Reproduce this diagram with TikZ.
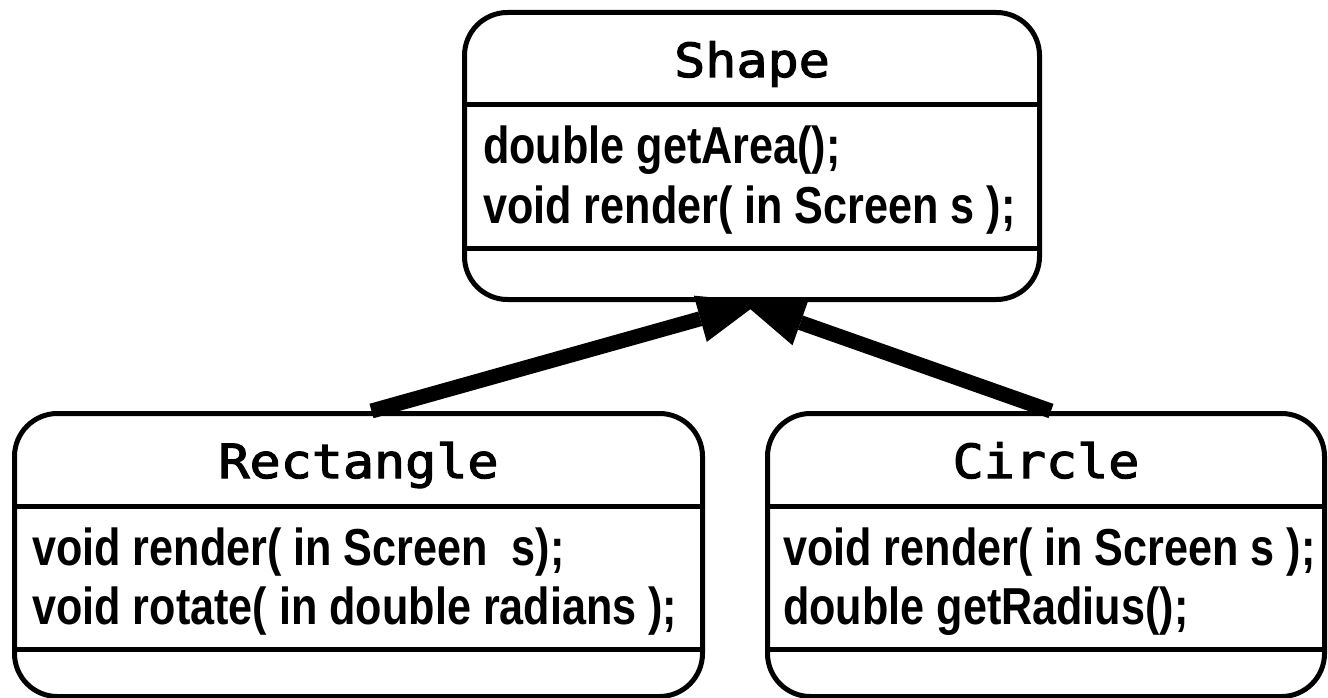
\documentclass[tikz,border=0pt]{standalone}
\usepackage{fontspec}
\usetikzlibrary{arrows.meta,calc}
\newfontfamily\titlefont{DejaVu Sans Mono}[FakeStretch=1.1,FakeBold=2.5]
\newfontfamily\bodyfont{Liberation Sans}[FakeStretch=0.83]
\begin{document}
\begin{tikzpicture}[x=1pt,y=-1pt,
  classbox/.style={draw, line width=5pt, rounded corners=43pt, anchor=north west, inner sep=0pt},
  divider/.style={line width=5pt},
  titletext/.style={anchor=base, inner sep=0pt, font=\titlefont\fontsize{47}{56}\selectfont},
  optext/.style={anchor=base west, inner sep=0pt, font=\bodyfont\bfseries\fontsize{52}{60}\selectfont},
  inherit/.style={line width=15pt, -{Triangle[length=62pt,width=48pt,line width=0pt]}}]
\useasboundingbox (0,0) rectangle (1328,698);
% class boxes
\node[classbox, minimum width=575pt, minimum height=287pt] (shape) at (462,10) {};
\node[classbox, minimum width=688pt, minimum height=283pt] (rect) at (12,411) {};
\node[classbox, minimum width=557pt, minimum height=283pt] (circ) at (765,411) {};
% dividers
\foreach \b in {shape, rect, circ}{
  \draw[divider] ($(\b.north west)+(0,95)$) -- ($(\b.north east)+(0,95)$);
  \draw[divider] ($(\b.north west)+(0,238)$) -- ($(\b.north east)+(0,238)$);
}
% titles
\node[titletext] (shapeT) at ($(shape.north)+(0,67)$) {Shape};
\node[titletext] (rectT) at ($(rect.north)+(0,67)$) {Rectangle};
\node[titletext] (circT) at ($(circ.north)+(0,67)$) {Circle};
% operations
\node[optext] (shapeA) at ($(shape.north west)+(21,154)$) {double getArea();};
\node[optext] (shapeB) at ($(shape.north west)+(21,213)$) {void render( in Screen s );};
\node[optext] (rectA) at ($(rect.north west)+(20,154)$) {void render( in Screen\ \ s);};
\node[optext] (rectB) at ($(rect.north west)+(20,213)$) {void rotate( in double radians );};
\node[optext] (circA) at ($(circ.north west)+(18,154)$) {void render( in Screen s );};
\node[optext] (circB) at ($(circ.north west)+(18,213)$) {double getRadius();};
% generalization arrows
\draw[inherit] ([xshift=13pt]rect.north) -- ([xshift=8pt]shape.south);
\draw[inherit] ([xshift=5pt]circ.north) -- ([xshift=-10pt]shape.south);
\end{tikzpicture}
\end{document}
